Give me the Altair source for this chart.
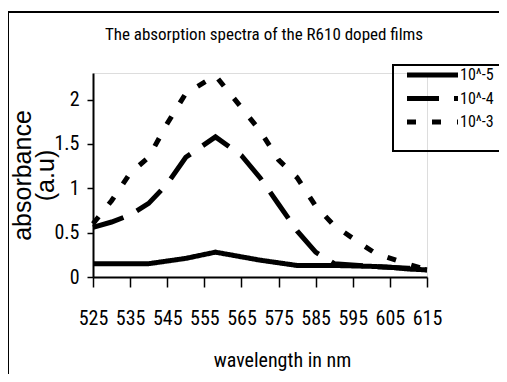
import altair as alt
import pandas as pd

title_text = "The absorption spectra of the R610 doped films"
series_names = ["10^-5", "10^-4", "10^-3"]

wl_5 = [525, 530, 540, 550, 558, 570, 580, 590, 600, 605, 610, 615]
ab_5 = [0.15, 0.15, 0.15, 0.21, 0.28, 0.19, 0.13, 0.13, 0.12, 0.11, 0.09, 0.08]

wl_4 = [525, 530, 535, 540, 545, 550, 558, 565, 570, 575, 580, 585, 590, 600, 610, 615]
ab_4 = [0.56, 0.62, 0.70, 0.83, 1.05, 1.35, 1.58, 1.37, 1.12, 0.82, 0.52, 0.28, 0.15, 0.12, 0.10, 0.08]

wl_3 = [525, 530, 535, 540, 545, 550, 558, 565, 570, 575, 580, 585, 590, 597, 601, 608, 615]
ab_3 = [0.60, 0.86, 1.17, 1.35, 1.73, 2.07, 2.27, 1.91, 1.65, 1.32, 1.12, 0.80, 0.58, 0.38, 0.27, 0.17, 0.08]

x_ticks = [525, 535, 545, 555, 565, 575, 585, 595, 605, 615]
y_ticks = [0, 0.5, 1, 1.5, 2]

rows = []
for name, wl, ab in [(series_names[0], wl_5, ab_5), (series_names[1], wl_4, ab_4), (series_names[2], wl_3, ab_3)]:
    for w, a in zip(wl, ab):
        rows.append({"series": name, "wavelength": w, "absorbance": a})
df = pd.DataFrame(rows)
legend_df = pd.DataFrame({"series": series_names, "row": list(range(len(series_names)))})

NARROW = "Roboto Condensed"
W, H = 334, 204
PL, PT = 85, 65
TOTW, TOTH = 491, 366

dash_scale = alt.Scale(domain=series_names, range=[[1, 0], [32, 15], [9, 16]])

lines = alt.Chart(df).mark_line(strokeWidth=5, color="black", strokeCap="butt").encode(
    x=alt.X("wavelength:Q",
            scale=alt.Scale(domain=[525, 615], nice=False, zero=False),
            axis=alt.Axis(values=x_ticks, title="wavelength in nm", grid=False,
                          labelFont=NARROW, labelFontSize=20, labelColor="black",
                          labelOverlap=False, labelFlush=False,
                          labelPadding=21, tickSize=10, tickColor="black", tickWidth=1.5,
                          domainColor="black", domainWidth=2,
                          titleFont=NARROW, titleFontSize=20, titleFontWeight="normal",
                          titleColor="black", titleX=189, titleY=83,
                          titleBaseline="middle", titleAlign="center")),
    y=alt.Y("absorbance:Q",
            scale=alt.Scale(domain=[0, 2.3], nice=False),
            axis=alt.Axis(values=y_ticks, format="~g", title=["absorbance", "(a.u)"], grid=False,
                          labelFont=NARROW, labelFontSize=20, labelColor="black",
                          labelOverlap=False, labelFlush=False,
                          labelPadding=8, tickSize=6, tickColor="black", tickWidth=1.5,
                          domainColor="black", domainWidth=2,
                          titleFont="Liberation Sans", titleFontSize=25, titleFontWeight="normal",
                          titleColor="black", titleX=-71, titleY=102, titleAngle=270,
                          titleBaseline="middle", titleAlign="center", titleLineHeight=23)),
    strokeDash=alt.StrokeDash("series:N", scale=dash_scale, legend=None),
)

frame_df = pd.DataFrame([{"k": 0}])
frame_top = alt.Chart(frame_df).mark_rule(color="black", strokeWidth=2).encode(
    x=alt.value(-85), x2=alt.value(TOTW - PL), y=alt.value(-61))
frame_left = alt.Chart(frame_df).mark_rule(color="black", strokeWidth=2).encode(
    x=alt.value(-85), y=alt.value(-61), y2=alt.value(TOTH - PT))
legend_box = alt.Chart(frame_df).mark_rect(fill="white", fillOpacity=0, stroke="black", strokeWidth=2).encode(
    x=alt.value(300), x2=alt.value(TOTW - PL + 5), y=alt.value(-8), y2=alt.value(78))
title_mark = alt.Chart(frame_df).mark_text(font=NARROW, fontSize=17, color="black",
                                           align="center", baseline="alphabetic").encode(
    x=alt.value(171), y=alt.value(-33), text=alt.value(title_text))

legend_sym = alt.Chart(legend_df).transform_calculate(
    py="datum.row * 23.5 + 2"
).mark_rule(strokeWidth=5, color="black", strokeCap="butt").encode(
    x=alt.value(314), x2=alt.value(365),
    y=alt.Y("py:Q", scale=None),
    strokeDash=alt.StrokeDash("series:N", scale=dash_scale, legend=None),
)
legend_txt = alt.Chart(legend_df).transform_calculate(
    py="datum.row * 23.5 + 2"
).mark_text(font=NARROW, fontSize=16, color="black", align="left", baseline="middle").encode(
    x=alt.value(367),
    y=alt.Y("py:Q", scale=None),
    text="series:N",
)

chart = alt.layer(frame_top, frame_left, legend_box, title_mark, lines, legend_sym, legend_txt).properties(
    width=W, height=H,
    autosize=alt.AutoSizeParams(type="none"),
    padding={"left": PL, "top": PT, "right": TOTW - PL - W, "bottom": TOTH - PT - H},
).configure_view(stroke=None).configure(background="white")

chart.save("out.html", embed_options={"renderer": "svg", "actions": False})
